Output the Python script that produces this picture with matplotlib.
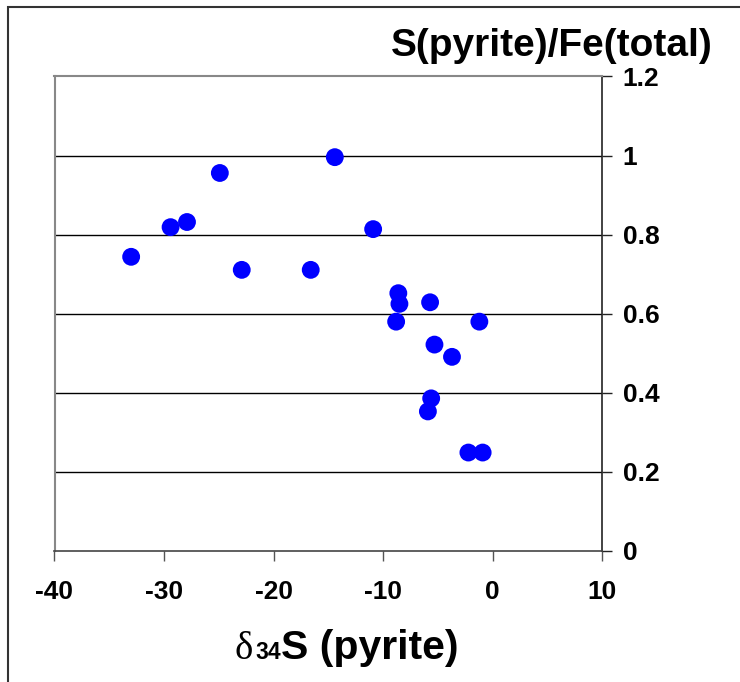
import matplotlib.pyplot as plt
from matplotlib.patches import Rectangle

# delta34S (pyrite) vs S(pyrite)/Fe(total)
d34s = [-33.0, -29.4, -27.9, -24.9, -22.9, -16.6, -14.4, -10.9, -8.6, -8.5,
        -8.8, -5.7, -1.2, -5.3, -3.7, -5.6, -5.9, -2.2, -0.9]
s_fe = [0.744, 0.819, 0.832, 0.956, 0.711, 0.711, 0.996, 0.814, 0.652, 0.625,
        0.580, 0.629, 0.580, 0.522, 0.491, 0.386, 0.353, 0.249, 0.249]

x_ticks = [-40, -30, -20, -10, 0, 10]
y_ticks = [0, 0.2, 0.4, 0.6, 0.8, 1.0, 1.2]
y_labels = ['0', '0.2', '0.4', '0.6', '0.8', '1', '1.2']

plt.rcParams['font.family'] = ['Liberation Sans', 'DejaVu Sans']
plt.rcParams['axes.unicode_minus'] = False

W, H = 740, 682
fig = plt.figure(figsize=(W / 100, H / 100), dpi=100)
ax = fig.add_axes([54.5 / W, 1 - 551 / H, (602 - 54.5) / W, (551 - 76.5) / H])

ax.scatter(d34s, s_fe, s=165, color='#0000ff', edgecolors='none', zorder=3, clip_on=False)

ax.set_xlim(-40, 10)
ax.set_ylim(0, 1.2)
ax.set_xticks(x_ticks)
ax.set_yticks(y_ticks)
ax.set_yticklabels(y_labels)
ax.yaxis.tick_right()
ax.tick_params(axis='y', direction='out', length=7, width=1, color='#222222', pad=8,
               labelsize=19)
ax.tick_params(axis='x', direction='out', length=7, width=1, color='#555555', pad=14,
               labelsize=19)
for lab in ax.get_xticklabels() + ax.get_yticklabels():
    lab.set_fontweight('bold')

for y in y_ticks[1:-1]:
    ax.axhline(y, color='black', lw=1, zorder=1)

ax.spines['left'].set_color('#888888')
ax.spines['top'].set_color('#888888')
ax.spines['left'].set_linewidth(1.5)
ax.spines['top'].set_linewidth(1.5)
ax.spines['right'].set_color('#222222')
ax.spines['bottom'].set_color('#444444')
ax.spines['right'].set_linewidth(1.2)
ax.spines['bottom'].set_linewidth(1.2)

# y axis title, upper right
fig.text(713 / W, 1 - 56 / H, 'S(pyrite)/Fe(total)', ha='right', va='baseline',
         fontsize=28, fontweight='bold')

# x axis title: delta (serif) + 34 + S (pyrite), all on one baseline
base = 1 - 659 / H
pieces = [('\u03b4', dict(fontsize=28, family='Liberation Serif'), 2),
          ('34', dict(fontsize=16.5, fontweight='bold'), 0),
          ('S (pyrite)', dict(fontsize=29.5, fontweight='bold'), 0)]
renderer = fig.canvas.get_renderer()
x_px = 235
for txt, kw, gap in pieces:
    t = fig.text(x_px / W, base, txt, ha='left', va='baseline', **kw)
    x_px = t.get_window_extent(renderer).x1 + gap

# outer frame, cut off at right and bottom
fig.patches.append(Rectangle((8 / W, -0.1), 1.2, 1.1 - 7 / H, transform=fig.transFigure,
                             fill=False, edgecolor='#333333', lw=1.5))

fig.savefig('out.png', dpi=100)
